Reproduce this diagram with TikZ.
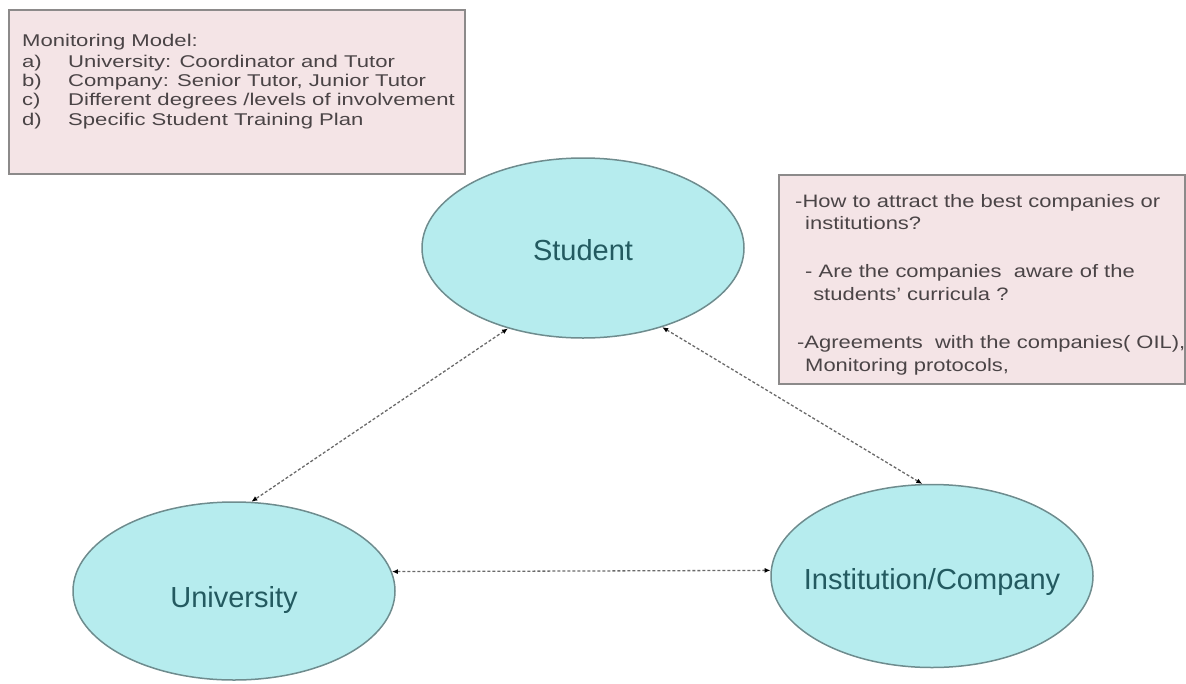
\documentclass[tikz,border=0pt]{standalone}
\usepackage{fontspec}
\usepackage{graphicx}
\setmainfont{Liberation Sans}
\usetikzlibrary{shapes.geometric,arrows.meta}
\definecolor{pinkfill}{HTML}{F4E4E6}
\definecolor{boxgray}{HTML}{8C8A8A}
\definecolor{notecol}{HTML}{4A4446}
\definecolor{cyanfill}{HTML}{B6ECEE}
\definecolor{ellgray}{HTML}{6E8C8E}
\definecolor{elltext}{HTML}{235A60}
\definecolor{linkgray}{HTML}{6A6A6A}
\newcommand{\acttext}[2]{\makebox[0pt]{\smash{\raisebox{#1}{#2}}}}
\begin{document}
\begin{tikzpicture}[x=1pt,y=-1pt,
  notebox/.style={draw=boxgray, line width=2pt, fill=pinkfill, inner sep=0pt, anchor=north west},
  notetext/.style={anchor=base west, inner sep=0pt, text=notecol},
  actor/.style={ellipse, draw=ellgray, line width=1.5pt, fill=cyanfill, inner sep=0pt,
    text=elltext, font=\fontsize{29}{34}\selectfont},
  link/.style={draw=linkgray, line width=1.3pt, dash pattern=on 3pt off 2pt,
    {Latex[length=6pt,width=5pt,black]}-{Latex[length=6pt,width=5pt,black]}}
]
\useasboundingbox (0,0) rectangle (1186,683);

% top-left note
\node[notebox, minimum width=456pt, minimum height=164pt] (mon) at (8,9) {};
\node[notetext, font=\fontsize{17}{19.3}\selectfont] (montxt) at (22,46)
  {\scalebox{1.3}[1]{\begin{tabular}[t]{@{}p{35.4pt}@{}l@{}}
   \multicolumn{2}{@{}l@{}}{Monitoring Model:}\\[2pt]
   a) & University: Coordinator and Tutor\\
   b) & Company: Senior Tutor, Junior Tutor\\
   c) & Different degrees /levels of involvement\\
   d) & Specific Student Training Plan
  \end{tabular}}};

% right note
\node[notebox, minimum width=406pt, minimum height=209pt] (q) at (778,174) {};
\node[notetext, font=\fontsize{18}{22.7}\selectfont] (qtxt) at (795,207)
  {\scalebox{1.22}[1]{\begin{tabular}[t]{@{}l@{}}
   -How to attract the best companies or\\
   \hspace{8.2pt}institutions?\\[25.5pt]
   \hspace{8.2pt}- Are the companies\ \ aware of the\\
   \hspace{14.8pt}students' curricula ?\\[25.5pt]
   \hspace{1.6pt}-Agreements\ \ with the companies( OIL),\\
   \hspace{8.2pt}Monitoring protocols,
  \end{tabular}}};

% actors
\node[actor, minimum width=322pt, minimum height=180pt] (stu) at (583,248) {\acttext{-12.5pt}{Student}};
\node[actor, minimum width=322pt, minimum height=178pt] (uni) at (234,591) {\acttext{-16.5pt}{University}};
\node[actor, minimum width=322pt, minimum height=183pt] (inst) at (932,576) {\acttext{-13.5pt}{Institution/Company}};

% links
\draw[link] (stu.227) -- (uni.79);
\draw[link] (stu.315) -- (inst.96);
\draw[link] (uni.7) -- (inst.178.5);
\end{tikzpicture}
\end{document}
